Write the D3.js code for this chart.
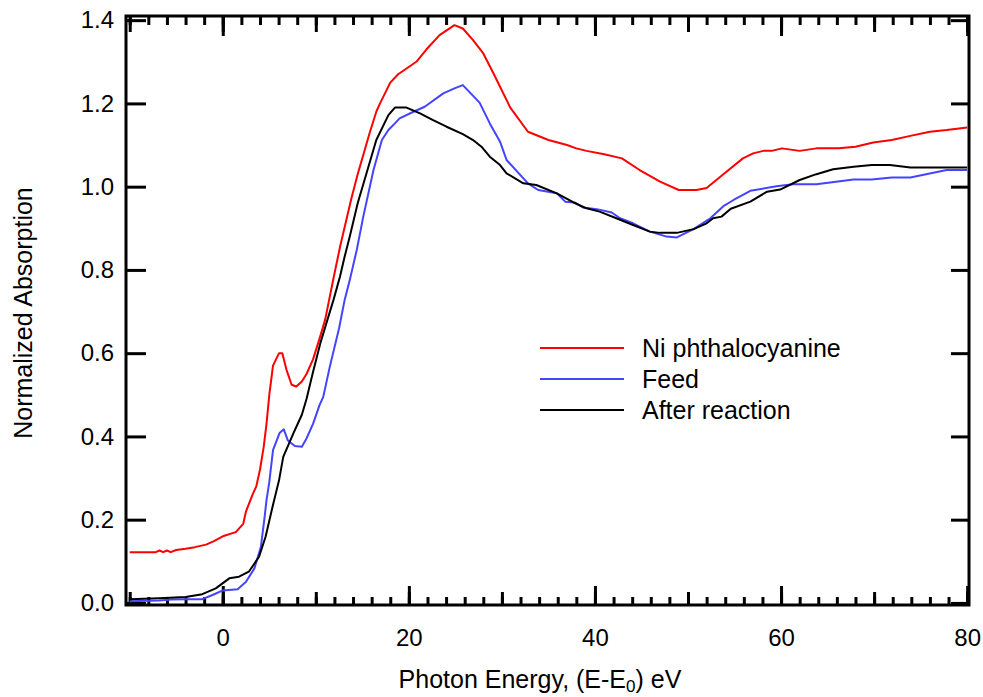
<!DOCTYPE html>
<html>
<head>
<meta charset="utf-8">
<script src="https://cdn.jsdelivr.net/npm/d3@7"></script>
<style>
  body { margin: 0; background: #fff; }
  svg text { font-family: "Liberation Sans", Arial, sans-serif; fill: #000; }
</style>
</head>
<body>
<div id="chart"></div>
<script>
// Data: [photon energy (E-E0) eV, normalized absorption]
const niPc = [[-10,0.122],[-7.2,0.122],[-6.8,0.126],[-6.4,0.122],[-6.0,0.126],[-5.6,0.122],[-5.0,0.127],[-4,0.13],[-3,0.134],[-1.8,0.14],[-1,0.148],[0,0.16],[1.4,0.17],[2.2,0.19],[2.5,0.22],[3.2,0.26],[3.6,0.28],[4.0,0.32],[4.4,0.375],[4.7,0.43],[5.0,0.50],[5.4,0.57],[6.05,0.60],[6.4,0.60],[6.85,0.56],[7.4,0.524],[7.9,0.52],[8.5,0.532],[9.0,0.55],[9.7,0.585],[10.4,0.635],[11.0,0.68],[11.9,0.78],[12.6,0.855],[13.8,0.97],[14.5,1.03],[15.8,1.13],[16.5,1.18],[16.9,1.20],[18.0,1.25],[18.85,1.27],[19.75,1.284],[20.8,1.30],[21.9,1.33],[23.3,1.364],[24.9,1.388],[25.8,1.38],[26.9,1.352],[28.0,1.32],[29.1,1.272],[30.9,1.19],[32.8,1.132],[35.0,1.112],[37.0,1.10],[38.0,1.092],[39.1,1.086],[41,1.078],[42.9,1.068],[44.8,1.04],[47.0,1.012],[49.0,0.992],[50.9,0.992],[52.0,0.997],[53.8,1.03],[55.9,1.068],[57.0,1.08],[58.1,1.086],[59.0,1.086],[60.1,1.092],[62.0,1.086],[63.8,1.092],[66.2,1.092],[68.0,1.096],[69.9,1.106],[71.9,1.112],[73.9,1.122],[76.0,1.132],[77.8,1.136],[80,1.142]];

const feed = [[-10,0.004],[-8,0.005],[-6.85,0.006],[-5.5,0.008],[-4,0.009],[-2.2,0.009],[-1.1,0.019],[0,0.03],[1.6,0.033],[2.5,0.051],[3.4,0.083],[4.1,0.135],[4.5,0.207],[4.7,0.247],[5.0,0.29],[5.4,0.367],[6.1,0.408],[6.56,0.417],[7.0,0.39],[7.75,0.377],[8.5,0.375],[9.0,0.395],[9.7,0.43],[10.4,0.475],[10.8,0.495],[11.5,0.567],[12.5,0.66],[13.1,0.728],[13.65,0.776],[14.4,0.848],[15.1,0.928],[16.2,1.04],[17.1,1.112],[17.8,1.136],[18.5,1.152],[19.0,1.164],[20.5,1.18],[21.7,1.192],[23.7,1.224],[24.9,1.236],[25.8,1.244],[27.6,1.202],[28.7,1.152],[29.8,1.108],[30.5,1.064],[32.8,1.008],[33.9,0.992],[35.9,0.984],[36.8,0.964],[37.8,0.962],[38.7,0.95],[40.2,0.946],[41.8,0.938],[42.7,0.924],[44.1,0.912],[45.9,0.892],[47.7,0.88],[48.8,0.878],[50.6,0.898],[52.4,0.924],[53.8,0.953],[54.9,0.968],[56.7,0.99],[59.5,1.001],[61.3,1.006],[63.8,1.006],[67.8,1.017],[69.75,1.017],[71.9,1.022],[73.9,1.022],[77.8,1.04],[80,1.04]];

const afterRxn = [[-10,0.009],[-6.85,0.011],[-4,0.014],[-2.2,0.021],[-0.75,0.035],[0.7,0.059],[1.75,0.063],[2.8,0.075],[3.9,0.111],[4.6,0.159],[5.35,0.231],[6.05,0.295],[6.5,0.351],[7.6,0.408],[8.5,0.452],[9.0,0.49],[9.7,0.555],[10.5,0.625],[11.9,0.728],[12.6,0.784],[13.1,0.832],[13.65,0.88],[14.5,0.96],[16.5,1.112],[17.8,1.172],[18.5,1.19],[19.75,1.19],[21.2,1.176],[22.6,1.16],[24.05,1.144],[25.8,1.126],[26.9,1.112],[27.8,1.096],[28.7,1.072],[29.8,1.052],[30.5,1.032],[32.3,1.008],[33.7,1.004],[35.9,0.984],[37.7,0.962],[39.1,0.948],[40.5,0.94],[42.3,0.924],[44.1,0.908],[45.9,0.892],[47.0,0.889],[48.8,0.889],[50.6,0.898],[52.0,0.912],[52.7,0.924],[53.6,0.928],[54.6,0.947],[56.7,0.964],[58.5,0.988],[59.9,0.993],[62.0,1.016],[63.8,1.03],[65.6,1.042],[67.8,1.048],[69.75,1.052],[71.7,1.052],[73.9,1.046],[80,1.046]];

const seriesNames = ['Ni phthalocyanine', 'Feed', 'After reaction'];
const seriesColors = ['#ff0000', '#4444ff', '#000000'];
const xTicks = [0, 20, 40, 60, 80];
const yTicks = [0.0, 0.2, 0.4, 0.6, 0.8, 1.0, 1.2, 1.4];

//Dimensions
const W = 983, H = 697;
const plot = { left: 126, right: 969, top: 16, bottom: 605 };

const svg = d3.select('#chart')
    .append('svg')
    .attr('width', W)
    .attr('height', H);

//Scales
const x = d3.scaleLinear().domain([-10.4, 80.2]).range([plot.left, plot.right]);
const y = d3.scaleLinear().domain([-0.005, 1.41]).range([plot.bottom, plot.top]);

/*#########
Axes / ticks
#########*/
const minorX = d3.range(-10, 81, 2);
const medX = d3.range(-10, 81, 10);

function tickAxis(axisFn, scale, values, size) {
    return axisFn(scale).tickValues(values).tickSize(size).tickFormat('');
}

//bottom (ticks point up into plot)
svg.append('g').attr('class', 'ax').attr('transform', 'translate(0,' + plot.bottom + ')')
    .call(tickAxis(d3.axisBottom, x, minorX, -8));
svg.append('g').attr('class', 'ax').attr('transform', 'translate(0,' + plot.bottom + ')')
    .call(tickAxis(d3.axisBottom, x, medX, -13));
svg.append('g').attr('class', 'ax lbl').attr('transform', 'translate(0,' + plot.bottom + ')')
    .call(d3.axisBottom(x).tickValues(xTicks).tickSize(-19).tickPadding(24).tickFormat(d3.format('d')));

//top (ticks point down)
svg.append('g').attr('class', 'ax').attr('transform', 'translate(0,' + plot.top + ')')
    .call(tickAxis(d3.axisTop, x, minorX, -9));
svg.append('g').attr('class', 'ax').attr('transform', 'translate(0,' + plot.top + ')')
    .call(tickAxis(d3.axisTop, x, medX, -16));
svg.append('g').attr('class', 'ax').attr('transform', 'translate(0,' + plot.top + ')')
    .call(tickAxis(d3.axisTop, x, xTicks, -20));

//left
svg.append('g').attr('class', 'ax lbl').attr('transform', 'translate(' + plot.left + ',0)')
    .call(d3.axisLeft(y).tickValues(yTicks).tickSize(-20).tickPadding(12).tickFormat(d3.format('.1f')));

//right
svg.append('g').attr('class', 'ax').attr('transform', 'translate(' + plot.right + ',0)')
    .call(tickAxis(d3.axisRight, y, yTicks, -18));

svg.selectAll('.ax .domain').remove();
svg.selectAll('.ax line').attr('stroke', '#000').attr('stroke-width', 3);
svg.selectAll('.lbl text').style('font-size', '24px').attr('fill', '#000');

//frame
svg.append('rect')
    .attr('x', plot.left).attr('y', plot.top)
    .attr('width', plot.right - plot.left).attr('height', plot.bottom - plot.top)
    .attr('fill', 'none').attr('stroke', '#000').attr('stroke-width', 3);

/*#########
Lines
#########*/
const line = d3.line().x(d => x(d[0])).y(d => y(d[1]));
svg.selectAll('.series')
    .data([niPc, feed, afterRxn])
    .join('path')
    .attr('class', 'series')
    .attr('d', line)
    .attr('fill', 'none')
    .attr('stroke', (d, i) => seriesColors[i])
    .attr('stroke-width', 2)
    .attr('stroke-linejoin', 'round');

/*#########
Legend
#########*/
const leg = svg.append('g');
seriesNames.forEach((name, i) => {
    const ly = 348 + i * 31;
    leg.append('line')
        .attr('x1', 540).attr('x2', 624)
        .attr('y1', ly).attr('y2', ly)
        .attr('stroke', seriesColors[i]).attr('stroke-width', 2);
    leg.append('text')
        .attr('x', 642).attr('y', ly + 9)
        .style('font-size', '25px')
        .text(name);
});

//Axis titles
svg.append('text')
    .attr('transform', 'translate(32,313) rotate(-90)')
    .attr('text-anchor', 'middle')
    .style('font-size', '25px')
    .text('Normalized Absorption');

const xt = svg.append('text')
    .attr('x', 540).attr('y', 688)
    .attr('text-anchor', 'middle')
    .style('font-size', '25px');
xt.append('tspan').text('Photon Energy, (E-E');
xt.append('tspan').attr('dy', 4).style('font-size', '17px').text('0');
xt.append('tspan').attr('dy', -4).text(') eV');
</script>
</body>
</html>
